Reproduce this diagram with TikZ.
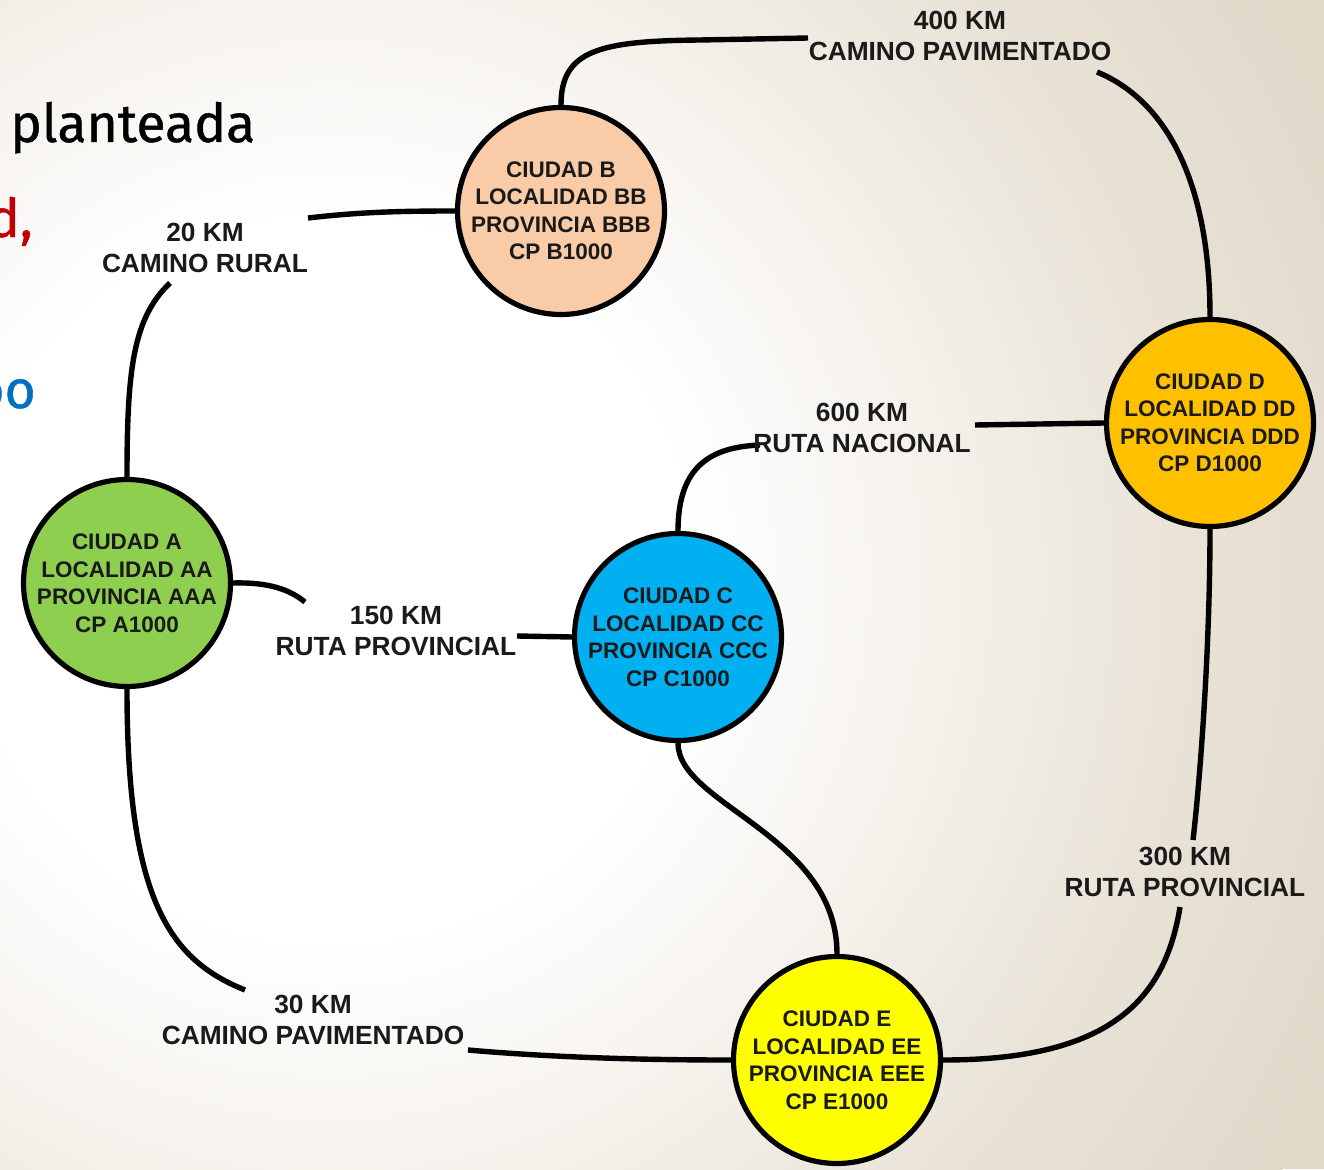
\documentclass[tikz,border=0pt]{standalone}
\usepackage{fontspec}
\setmainfont{Liberation Sans}
\newfontfamily\slidefont[FakeBold=0.8]{Fira Sans}
\usetikzlibrary{calc}

\definecolor{bgbeige}{HTML}{E0D9CA}
\definecolor{bgmid}{HTML}{F6F3EE}
\definecolor{bglow}{HTML}{E9E3D7}
\definecolor{cityA}{HTML}{8FCF4F}
\definecolor{cityB}{HTML}{F9CBA6}
\definecolor{cityC}{HTML}{00B0F0}
\definecolor{cityD}{HTML}{FFC000}
\definecolor{cityE}{HTML}{FFFF00}
\definecolor{inkgray}{HTML}{1A1A1A}
\definecolor{slidered}{HTML}{C00000}
\definecolor{slideblue}{HTML}{0070C0}

\pgfdeclareradialshading{slidebg}{\pgfpoint{0bp}{0bp}}{%
  color(0bp)=(white); color(8bp)=(white); color(13bp)=(bgmid);
  color(19bp)=(bglow); color(25bp)=(bgbeige); color(50bp)=(bgbeige)}

\pgfdeclarelayer{paper}
\pgfdeclarelayer{roads}
\pgfsetlayers{paper,roads,main}

\tikzset{
  city/.style={circle, draw=black, line width=5.2pt, minimum size=207pt,
    inner sep=0pt, align=center, text=inkgray,
    font=\fontsize{22.5}{27.5}\selectfont\bfseries},
  road/.style={align=center, text=inkgray, inner sep=0pt,
    font=\fontsize{26.3}{31}\selectfont\bfseries},
  link/.style={draw=black, line width=5.4pt},
  slidetext/.style={inner sep=0pt, font=\fontsize{53.5}{60}\selectfont\slidefont}
}

\begin{document}
\begin{tikzpicture}[x=1pt,y=-1pt]
\useasboundingbox (0,0) rectangle (1324,1169);

% slide background
\begin{pgfonlayer}{paper}
\fill[bgbeige] (0,0) rectangle (1324,1169);
\shade[shading=slidebg] (330,580) circle (1120);
\end{pgfonlayer}

% fragments of the slide text on the left
\node[slidetext, anchor=base west] (t1) at (10,142) {planteada};
\node[slidetext, anchor=base east, text=slidered] (t2) at (33,237) {d,};
\node[slidetext, anchor=base east, text=slideblue] (t3) at (36,408) {oo};

% cities
\node[city, fill=cityA] (A) at (127,583) {CIUDAD A\\LOCALIDAD AA\\PROVINCIA AAA\\CP A1000};
\node[city, fill=cityB] (B) at (561,211) {CIUDAD B\\LOCALIDAD BB\\PROVINCIA BBB\\CP B1000};
\node[city, fill=cityC] (C) at (678,637) {CIUDAD C\\LOCALIDAD CC\\PROVINCIA CCC\\CP C1000};
\node[city, fill=cityD] (D) at (1210,423) {CIUDAD D\\LOCALIDAD DD\\PROVINCIA DDD\\CP D1000};
\node[city, fill=cityE] (E) at (837,1060) {CIUDAD E\\LOCALIDAD EE\\PROVINCIA EEE\\CP E1000};

% road labels
\node[road] (rAB) at (205,248) {20 KM\\CAMINO RURAL};
\node[road] (rBD) at (960,36) {400 KM\\CAMINO PAVIMENTADO};
\node[road] (rAC) at (396,631) {150 KM\\RUTA PROVINCIAL};
\node[road] (rCD) at (862,428) {600 KM\\RUTA NACIONAL};
\node[road] (rAE) at (313,1020) {30 KM\\CAMINO PAVIMENTADO};
\node[road] (rDE) at (1185,872) {300 KM\\RUTA PROVINCIAL};

% free ends of the roads beside their labels
\coordinate (ab1) at (170,283);
\coordinate (ab2) at (308,218);
\coordinate (bd1) at (808,38);
\coordinate (bd2) at (1097,72);
\coordinate (ac1) at (305,602);
\coordinate (ac2) at (517,636);
\coordinate (cd1) at (760,445);
\coordinate (cd2) at (975,425);
\coordinate (ae1) at (245,990);
\coordinate (ae2) at (468,1050);
\coordinate (de1) at (1193,840);
\coordinate (de2) at (1180,907);

% roads, behind the cities
\begin{pgfonlayer}{roads}
% A - B : 20 km
\draw[link] (A.north) .. controls (127,370) and (133,318) .. (ab1);
\draw[link] (ab2) .. controls (360,212) and (400,211) .. (B.west);
% B - D : 400 km
\draw[link] (B.north) .. controls (561,50) and (600,41) .. (700,40) -- (bd1);
\draw[link] (bd2) .. controls (1165,100) and (1210,180) .. (D.north);
% A - C : 150 km
\draw[link] (A.east) .. controls (270,582) and (290,590) .. (ac1);
\draw[link] (ac2) -- (C.west);
% C - D : 600 km
\draw[link] (C.north) .. controls (678,465) and (712,447) .. (cd1);
\draw[link] (cd2) -- (D.west);
% C - E
\draw[link] (C.south) .. controls (678,805) and (837,835) .. (E.north);
% A - E : 30 km
\draw[link] (A.south) .. controls (127,900) and (170,960) .. (ae1);
\draw[link] (ae2) .. controls (560,1058) and (650,1060) .. (E.west);
% D - E : 300 km
\draw[link] (D.south) .. controls (1210,650) and (1200,780) .. (de1);
\draw[link] (de2) .. controls (1165,1000) and (1110,1060) .. (E.east);
\end{pgfonlayer}
\end{tikzpicture}
\end{document}
